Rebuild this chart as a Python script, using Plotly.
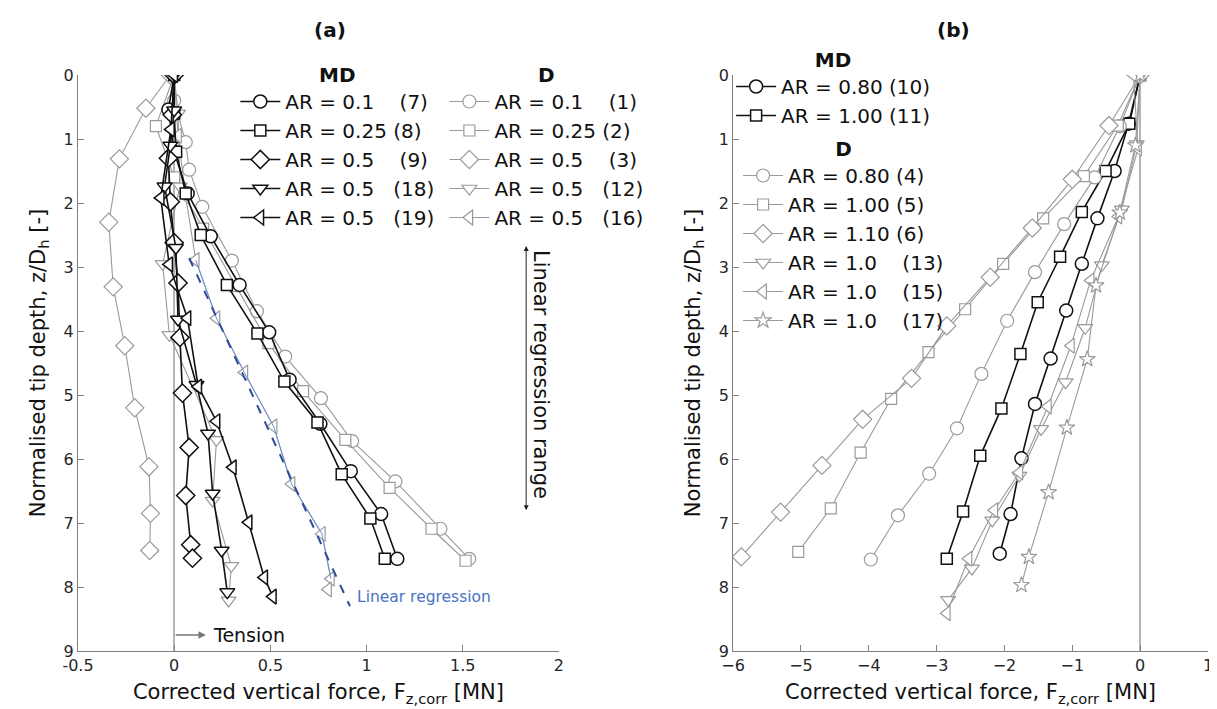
import plotly.graph_objects as go

# ---------------- Panel (a) data: corrected vertical force [MN] vs z/Dh ----------------
# MD series (black)
md7_z = [0, 0.54, 1.2, 1.85, 2.52, 3.28, 4.02, 4.76, 5.45, 6.19, 6.86, 7.56]
md7_x = [0, -0.03, 0.0, 0.07, 0.19, 0.34, 0.494, 0.6, 0.76, 0.918, 1.076, 1.16]
md8_z = [0, 0.6, 1.2, 1.85, 2.5, 3.28, 4.04, 4.79, 5.43, 6.24, 6.93, 7.56]
md8_x = [0, 0.0, 0.01, 0.06, 0.138, 0.274, 0.433, 0.573, 0.745, 0.871, 1.02, 1.095]
md9_z = [0, 0.62, 1.3, 1.98, 2.62, 3.25, 4.1, 4.97, 5.82, 6.57, 7.34, 7.55]
md9_x = [0, -0.01, -0.03, -0.02, 0.0, 0.02, 0.03, 0.043, 0.078, 0.06, 0.086, 0.095]
md18_z = [0, 0.55, 1.1, 1.74, 2.7, 3.82, 4.84, 5.6, 6.54, 7.43, 8.08]
md18_x = [0, 0.0, -0.02, -0.05, 0.009, 0.02, 0.116, 0.176, 0.2, 0.247, 0.276]
md19_z = [0, 0.85, 1.92, 2.96, 3.8, 4.87, 5.41, 6.13, 6.99, 7.85, 8.15]
md19_x = [0, -0.017, -0.07, -0.026, 0.069, 0.125, 0.22, 0.305, 0.387, 0.468, 0.513]
# D series (grey)
d1_z = [0, 0.4, 1.05, 1.48, 2.06, 2.9, 3.69, 4.40, 5.05, 5.72, 6.35, 7.09, 7.56]
d1_x = [0, 0.0, 0.06, 0.078, 0.146, 0.3, 0.43, 0.577, 0.763, 0.925, 1.15, 1.384, 1.534]
d2_z = [0, 0.8, 1.6, 2.4, 3.3, 4.19, 4.94, 5.7, 6.45, 7.09, 7.59]
d2_x = [0, -0.095, 0.0, 0.15, 0.32, 0.49, 0.67, 0.89, 1.12, 1.338, 1.515]
d3_z = [0, 0.52, 1.31, 2.30, 3.31, 4.23, 5.20, 6.12, 6.85, 7.43]
d3_x = [-0.02, -0.147, -0.285, -0.34, -0.317, -0.257, -0.205, -0.131, -0.123, -0.127]
d12_z = [0, 0.6, 1.74, 2.95, 4.06, 5.7, 6.65, 7.67, 8.21]
d12_x = [0, 0.02, 0.03, -0.06, -0.025, 0.22, 0.2, 0.297, 0.283]
d16_z = [0, 0.95, 1.9, 2.89, 3.8, 4.65, 5.49, 6.39, 7.17, 7.87, 8.04]
d16_x = [0, 0.02, 0.06, 0.112, 0.22, 0.365, 0.517, 0.61, 0.768, 0.815, 0.80]
# linear regression of test (16)
reg_z = [2.86, 8.3]
reg_x = [0.078, 0.914]

# ---------------- Panel (b) data ----------------
md10_z = [0, 0.76, 1.5, 2.24, 2.95, 3.68, 4.43, 5.14, 5.99, 6.86, 7.48]
md10_x = [0, -0.17, -0.377, -0.63, -0.86, -1.09, -1.32, -1.55, -1.75, -1.91, -2.07]
md11_z = [0, 0.76, 1.5, 2.14, 2.84, 3.55, 4.36, 5.21, 5.95, 6.82, 7.56]
md11_x = [0, -0.16, -0.51, -0.86, -1.18, -1.51, -1.765, -2.045, -2.357, -2.61, -2.85]
d4_z = [0, 0.8, 1.6, 2.33, 3.08, 3.84, 4.67, 5.52, 6.23, 6.88, 7.57]
d4_x = [0, -0.3, -0.67, -1.12, -1.55, -1.96, -2.34, -2.70, -3.11, -3.57, -3.97]
d5_z = [0, 0.79, 1.58, 2.24, 2.95, 3.66, 4.33, 5.06, 5.9, 6.77, 7.45]
d5_x = [0, -0.33, -0.83, -1.43, -2.02, -2.58, -3.12, -3.67, -4.12, -4.56, -5.04]
d6_z = [0, 0.79, 1.63, 2.39, 3.16, 3.92, 4.74, 5.38, 6.10, 6.83, 7.53]
d6_x = [0, -0.46, -1.0, -1.59, -2.21, -2.85, -3.37, -4.09, -4.69, -5.30, -5.88]
d13_z = [0, 1.08, 2.1, 2.97, 3.95, 4.8, 5.53, 6.26, 6.96, 7.71, 8.2]
d13_x = [0, -0.05, -0.27, -0.565, -0.81, -1.10, -1.46, -1.78, -2.18, -2.48, -2.83]
d15_z = [0, 1.15, 2.21, 3.21, 4.23, 5.18, 6.21, 6.8, 7.56, 8.41]
d15_x = [-0.1, -0.03, -0.32, -0.73, -1.02, -1.36, -1.78, -2.15, -2.53, -2.85]
d17_z = [0, 1.1, 2.15, 3.29, 4.44, 5.51, 6.52, 7.53, 7.97]
d17_x = [0, -0.07, -0.3, -0.65, -0.78, -1.08, -1.35, -1.64, -1.75]

# tick labels
a_ticks = [-0.5, 0, 0.5, 1, 1.5, 2]
a_ticktext = ["-0.5", "0", "0.5", "1", "1.5", "2"]
b_ticks = [-6, -5, -4, -3, -2, -1, 0, 1]
z_ticks = list(range(0, 10))

NB = "\u00a0"
BLACK = "#111111"
GREY = "#9a9a9a"
FONT = "DejaVu Sans, Liberation Sans, sans-serif"

W, H = 1217, 709
ML, MR, MT, MB = 70, 12, 67, 66
PW, PH = W - ML - MR, H - MT - MB


def px(p):
    return (p - ML) / PW


def py(p):
    return (H - MB - p) / PH


SIZES = {"circle": 13, "square": 11, "diamond": 14, "triangle-down": 13,
         "triangle-left": 13, "star": 12}

fig = go.Figure()


def add(x, z, name, symbol, color, md, axis, legend):
    fig.add_trace(go.Scatter(
        x=x, y=z, mode="lines+markers", name=name,
        line=dict(color=color, width=1.6 if md else 1.1),
        marker=dict(symbol=symbol, size=SIZES[symbol], color="white",
                    line=dict(color=color, width=1.5 if md else 1.2)),
        xaxis="x" if axis == 1 else "x2", yaxis="y" if axis == 1 else "y2",
        legend=legend,
    ))


# panel (a) grey D
add(d1_x, d1_z, "AR = 0.1" + NB * 4 + "(1)", "circle", GREY, False, 1, "legend2")
add(d2_x, d2_z, "AR = 0.25" + NB + "(2)", "square", GREY, False, 1, "legend2")
add(d3_x, d3_z, "AR = 0.5" + NB * 4 + "(3)", "diamond", GREY, False, 1, "legend2")
add(d12_x, d12_z, "AR = 0.5" + NB * 3 + "(12)", "triangle-down", GREY, False, 1, "legend2")
add(d16_x, d16_z, "AR = 0.5" + NB * 3 + "(16)", "triangle-left", GREY, False, 1, "legend2")
# blue overlay of regression range on (16)
fig.add_trace(go.Scatter(x=d16_x[3:10], y=d16_z[3:10], mode="lines",
                         line=dict(color="#6f8fd6", width=1), showlegend=False,
                         xaxis="x", yaxis="y", hoverinfo="skip"))
fig.add_trace(go.Scatter(x=reg_x, y=reg_z, mode="lines",
                         line=dict(color="#2e4c9a", width=2, dash="dash"), showlegend=False,
                         xaxis="x", yaxis="y"))
# panel (a) black MD
add(md7_x, md7_z, "AR = 0.1" + NB * 4 + "(7)", "circle", BLACK, True, 1, "legend")
add(md8_x, md8_z, "AR = 0.25" + NB + "(8)", "square", BLACK, True, 1, "legend")
add(md9_x, md9_z, "AR = 0.5" + NB * 4 + "(9)", "diamond", BLACK, True, 1, "legend")
add(md18_x, md18_z, "AR = 0.5" + NB * 3 + "(18)", "triangle-down", BLACK, True, 1, "legend")
add(md19_x, md19_z, "AR = 0.5" + NB * 3 + "(19)", "triangle-left", BLACK, True, 1, "legend")

# panel (b)
add(md10_x, md10_z, "AR = 0.80" + NB + "(10)", "circle", BLACK, True, 2, "legend3")
add(md11_x, md11_z, "AR = 1.00" + NB + "(11)", "square", BLACK, True, 2, "legend3")
add(d4_x, d4_z, "AR = 0.80" + NB + "(4)", "circle", GREY, False, 2, "legend4")
add(d5_x, d5_z, "AR = 1.00" + NB + "(5)", "square", GREY, False, 2, "legend4")
add(d6_x, d6_z, "AR = 1.10" + NB + "(6)", "diamond", GREY, False, 2, "legend4")
add(d13_x, d13_z, "AR = 1.0" + NB * 4 + "(13)", "triangle-down", GREY, False, 2, "legend4")
add(d15_x, d15_z, "AR = 1.0" + NB * 4 + "(15)", "triangle-left", GREY, False, 2, "legend4")
add(d17_x, d17_z, "AR = 1.0" + NB * 4 + "(17)", "star", GREY, False, 2, "legend4")

axis_common = dict(
    ticks="inside", ticklen=6, tickcolor="#808080", showline=True, linecolor="#808080",
    linewidth=1, showgrid=False, tickfont=dict(size=16, color="#262626", family=FONT),
)
xtitle = "Corrected vertical force, F<sub>z,corr</sub> [MN]"
ytitle = "Normalised tip depth, z/D<sub>h</sub> [-]"
TFONT = dict(size=21, family=FONT, color="#111")

legend_common = dict(
    bgcolor="rgba(0,0,0,0)", borderwidth=0, font=dict(size=20, family=FONT, color="#111"),
    itemwidth=40, tracegroupgap=0, xanchor="left", yanchor="top", traceorder="normal",
)
LTFONT = dict(size=20, family=FONT, color="#111")

fig.update_layout(
    width=W, height=H, margin=dict(l=ML, r=MR, t=MT, b=MB),
    paper_bgcolor="white", plot_bgcolor="white",
    font=dict(family=FONT, color="#111"),
    xaxis=dict(domain=[0, px(553)], range=[-0.5, 2], tickvals=a_ticks, ticktext=a_ticktext,
               zeroline=True, zerolinecolor="#b5b5b5", zerolinewidth=1.5, anchor="y",
               title=dict(text=xtitle, font=TFONT, standoff=10), **axis_common),
    yaxis=dict(domain=[0, 1], range=[9, 0], tickvals=z_ticks, zeroline=False, anchor="x",
               title=dict(text=ytitle, font=TFONT, standoff=12), **axis_common),
    xaxis2=dict(domain=[px(728), 1], range=[-6, 1], tickvals=b_ticks,
                zeroline=True, zerolinecolor="#b5b5b5", zerolinewidth=1.5, anchor="y2",
                title=dict(text=xtitle, font=TFONT, standoff=10), **axis_common),
    yaxis2=dict(domain=[0, 1], range=[9, 0], tickvals=z_ticks, zeroline=False, anchor="x2",
                title=dict(text=ytitle, font=TFONT, standoff=12), **axis_common),
    legend=dict(x=px(228), y=py(48), title=dict(text="<b>MD</b>", side="top center",
                                                 font=LTFONT), **legend_common),
    legend2=dict(x=px(438), y=py(48), title=dict(text="<b>D</b>", side="top center",
                                                  font=LTFONT), **legend_common),
    legend3=dict(x=px(726), y=py(33), title=dict(text="<b>MD</b>", side="top center",
                                                  font=LTFONT), **legend_common),
    legend4=dict(x=px(733), y=py(122), title=dict(text="<b>D</b>", side="top center",
                                                   font=LTFONT), **legend_common),
    showlegend=True,
)

fig.add_annotation(text="<b>(a)</b>", xref="paper", yref="paper", x=px(305), y=py(22),
                   yanchor="middle", showarrow=False, font=dict(size=20, family=FONT))
fig.add_annotation(text="<b>(b)</b>", xref="paper", yref="paper", x=px(968), y=py(22),
                   yanchor="middle", showarrow=False, font=dict(size=20, family=FONT))
fig.add_annotation(text="Tension", xref="x", yref="y", x=0.19, y=8.75, xanchor="left",
                   showarrow=False, font=dict(size=19, family=FONT))
fig.add_annotation(text="", xref="x", yref="y", x=0.165, y=8.75, ax=0.0, ay=8.75,
                   axref="x", ayref="y", showarrow=True, arrowhead=2, arrowsize=1,
                   arrowwidth=1.5, arrowcolor="#777")
fig.add_annotation(text="Linear regression", xref="x", yref="y", x=0.94, y=8.15,
                   xanchor="left", showarrow=False,
                   font=dict(size=15.5, color="#4a72c4", family=FONT))
fig.add_annotation(text="Linear regression range", xref="x", yref="y", x=1.91, y=4.68,
                   textangle=90, showarrow=False, font=dict(size=21, family=FONT))
fig.add_annotation(text="", xref="x", yref="y", x=1.83, y=6.8, ax=1.83, ay=2.65,
                   axref="x", ayref="y", showarrow=True, arrowhead=2, arrowside="end+start",
                   arrowsize=1, arrowwidth=1, arrowcolor="#222")

fig.write_html("out.html")
